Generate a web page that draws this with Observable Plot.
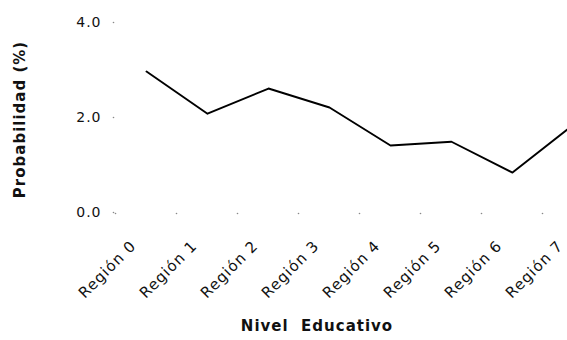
<!DOCTYPE html>
<html>
<head>
<meta charset="utf-8">
<script src="https://cdn.jsdelivr.net/npm/d3@7"></script>
<script src="https://cdn.jsdelivr.net/npm/@observablehq/plot@0.6"></script>
<style>
  html, body { margin: 0; padding: 0; background: #fff; overflow: hidden; }
</style>
</head>
<body>
<div id="chart"></div>
<script>
const regions = ["Región 0", "Región 1", "Región 2", "Región 3", "Región 4", "Región 5", "Región 6", "Región 7"];
const probabilidad = [2.97, 2.08, 2.61, 2.21, 1.41, 1.49, 0.84, 1.85];
const yTicks = [0, 2, 4];
const xTitle = "Nivel  Educativo";
const yTitle = "Probabilidad (%)";

const data = regions.map((r, i) => ({region: r, value: probabilidad[i]}));

const chart = Plot.plot({
  width: 567,
  height: 340,
  marginLeft: 114,
  marginRight: 0,
  marginTop: 22,
  marginBottom: 128,
  style: {fontFamily: "'DejaVu Sans', sans-serif", letterSpacing: "1px", color: "#000", background: "#fff"},
  x: {type: "point", domain: regions, range: [145, 574], padding: 0, axis: null},
  y: {domain: [0, 4], axis: null},
  marks: [
    Plot.dot(yTicks, {y: d => d, frameAnchor: "left", dx: -1, r: 0.8, fill: "#888", stroke: null}),
    Plot.dot(regions, {x: d => d, frameAnchor: "bottom", dx: -31, dy: 1, r: 0.8, fill: "#888", stroke: null}),
    Plot.text(yTicks, {y: d => d, text: d => d3.format(".1f")(d), frameAnchor: "left", textAnchor: "end", lineAnchor: "middle", dx: -13, fontSize: 14, fill: "#111"}),
    Plot.text(regions, {x: d => d, text: d => d, frameAnchor: "bottom", rotate: -45, textAnchor: "end", lineAnchor: "middle", dx: -13, dy: 31, fontSize: 15, fill: "#111"}),
    Plot.text([xTitle], {text: d => d, frameAnchor: "bottom", textAnchor: "middle", lineAnchor: "middle", dx: -24, dy: 114, fontSize: 15, fontWeight: "bold", fill: "#111"}),
    Plot.text([yTitle], {text: d => d, frameAnchor: "left", rotate: -90, textAnchor: "middle", lineAnchor: "middle", dx: -94, dy: 2, fontSize: 15, fontWeight: "bold", fill: "#111"}),
    Plot.line(data, {x: "region", y: "value", stroke: "#000", strokeWidth: 1.9})
  ]
});
document.getElementById("chart").appendChild(chart);
</script>
</body>
</html>
